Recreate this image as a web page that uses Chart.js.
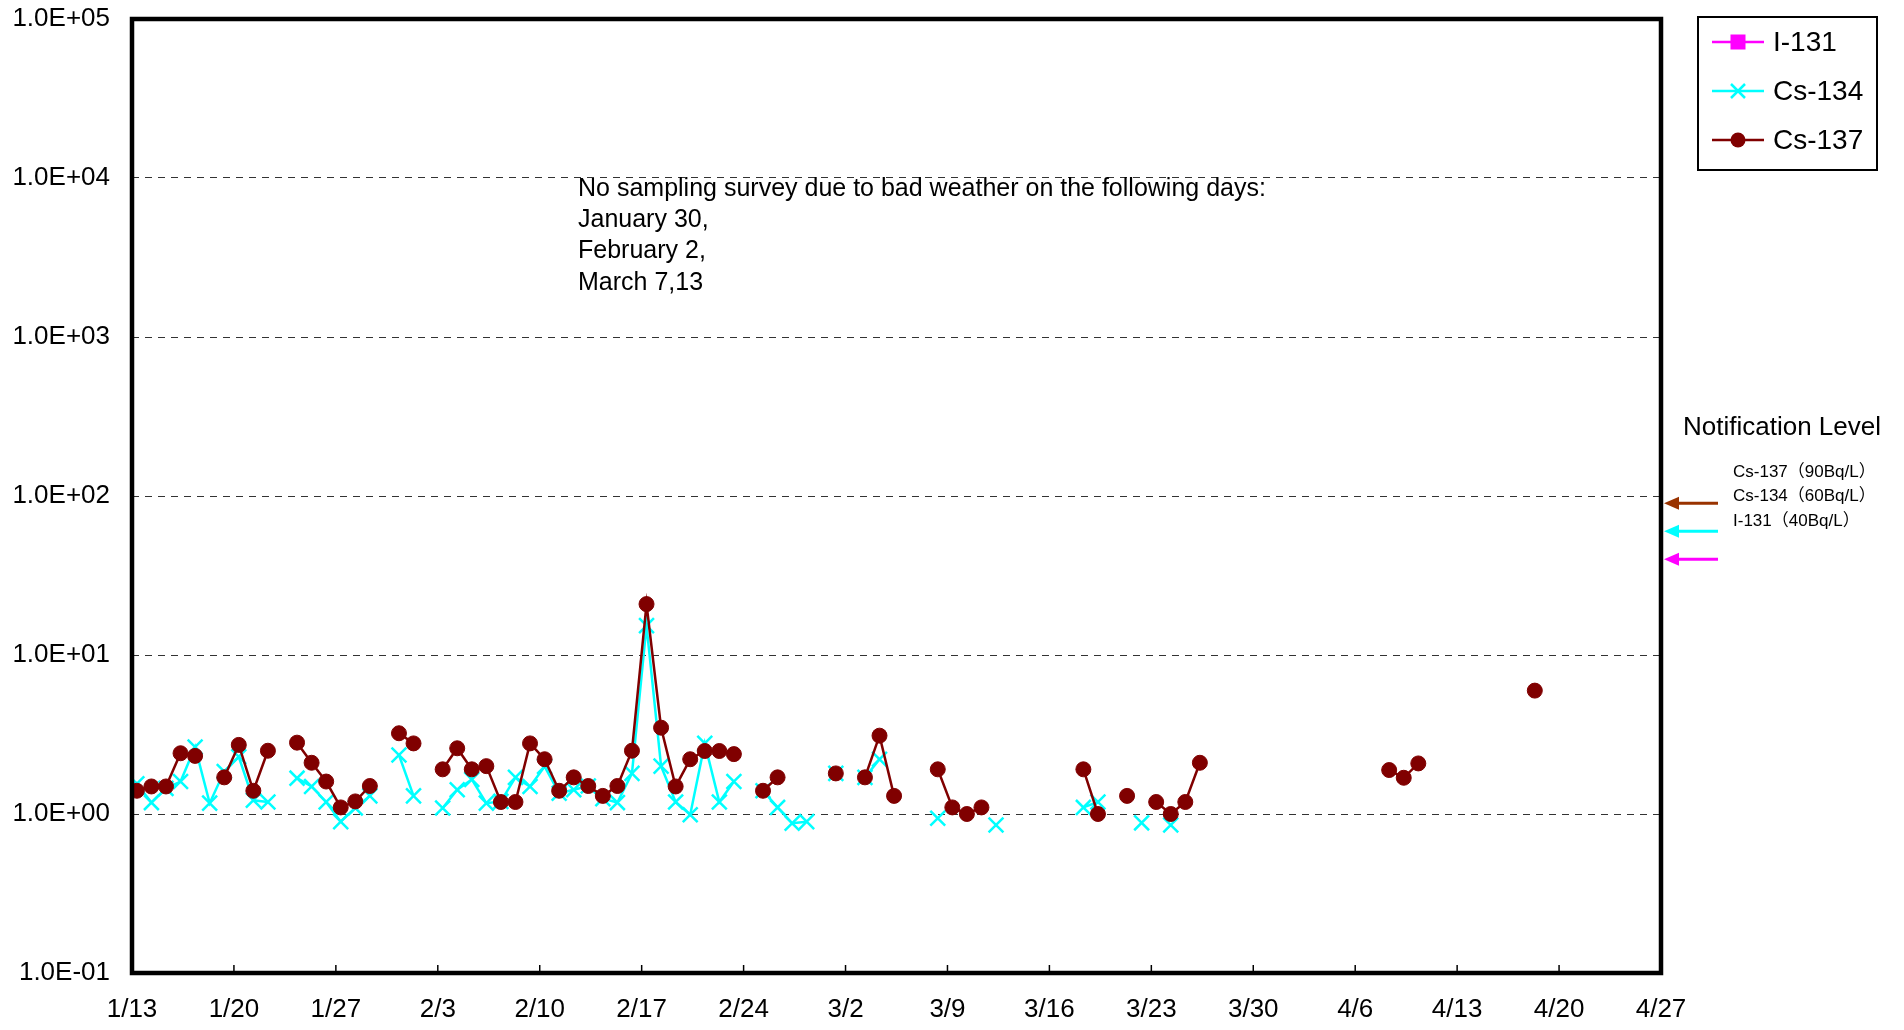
<!DOCTYPE html>
<html>
<head>
<meta charset="utf-8">
<script src="https://cdn.jsdelivr.net/npm/chart.js@4.4.1/dist/chart.umd.min.js"></script>
<style>
html,body{margin:0;padding:0;background:#fff;}
canvas{display:block;}
</style>
</head>
<body>
<canvas id="c" width="1904" height="1030"></canvas>
<script>
// ---------- DATA ----------
const dataYear = 2012;       // leap year (2/24 + 7 days = 3/2)
const sampleHour = 8;        // samples plotted at 8:00 of each day
const seriesNames = ['I-131', 'Cs-134', 'Cs-137'];

const dayLabels = [
  '1/12','1/13','1/14','1/15','1/16','1/17','1/18','1/19','1/20','1/21','1/22','1/23','1/24','1/25','1/26','1/27','1/28','1/29','1/30','1/31',
  '2/1','2/2','2/3','2/4','2/5','2/6','2/7','2/8','2/9','2/10','2/11','2/12','2/13','2/14','2/15','2/16','2/17','2/18','2/19','2/20','2/21','2/22','2/23','2/24','2/25','2/26','2/27','2/28','2/29',
  '3/1','3/2','3/3','3/4','3/5','3/6','3/7','3/8','3/9','3/10','3/11','3/12','3/13','3/14','3/15','3/16','3/17','3/18','3/19','3/20','3/21','3/22','3/23','3/24','3/25','3/26','3/27','3/28','3/29','3/30','3/31',
  '4/1','4/2','4/3','4/4','4/5','4/6','4/7','4/8','4/9','4/10','4/11','4/12','4/13','4/14','4/15','4/16','4/17','4/18'
];

// I-131: not detected over the whole period
const i131 = [];

const cs134 = [
  0.9, 1.55, 1.18, 1.45, 1.60, 2.64, 1.17, 1.85, 2.29, 1.22, 1.19, null, 1.68, 1.49, 1.19, 0.895, 1.09, 1.30, null, 2.35,
  1.30, null, 1.09, 1.42, 1.65, 1.17, 1.20, 1.70, 1.49, 1.99, 1.35, 1.42, 1.50, 1.25, 1.18, 1.80, 15.3, 2.00, 1.19, 0.99, 2.78, 1.19, 1.60, null, 1.40, 1.10, 0.874, 0.895, null,
  1.80, null, 1.70, 2.21, null, null, null, 0.94, null, null, null, 0.853, null, null, null, null, null, 1.10, 1.19, null, null, 0.88, null, 0.853, null, null, null, null, null, null, null,
  null, null, null, null, null, null, null, null, null, null, null, null, null, null, null, null, null, null
];

const cs137 = [
  1.8, 1.40, 1.49, 1.49, 2.41, 2.32, null, 1.70, 2.72, 1.40, 2.50, null, 2.81, 2.10, 1.60, 1.10, 1.20, 1.50, null, 3.22,
  2.78, null, 1.91, 2.59, 1.91, 2.00, 1.19, 1.19, 2.78, 2.21, 1.40, 1.70, 1.50, 1.30, 1.50, 2.50, 20.9, 3.49, 1.49, 2.21, 2.49, 2.49, 2.38, null, 1.40, 1.70, null, null, null,
  1.80, null, 1.70, 3.11, 1.30, null, null, 1.91, 1.10, 1.00, 1.10, null, null, null, null, null, null, 1.91, 1.00, null, 1.30, null, 1.19, 1.00, 1.19, 2.10, null, null, null, null, null,
  null, null, null, null, null, null, null, 1.89, 1.69, 2.08, null, null, null, null, null, null, null, 5.97
];

const xTickLabels = ['1/13','1/20','1/27','2/3','2/10','2/17','2/24','3/2','3/9','3/16','3/23','3/30','4/6','4/13','4/20','4/27'];
const yTickValues = [0.1, 1, 10, 100, 1000, 10000, 100000];
const yTickLabels = ['1.0E-01','1.0E+00','1.0E+01','1.0E+02','1.0E+03','1.0E+04','1.0E+05'];

const notifIsotopes = ['Cs-137', 'Cs-134', 'I-131'];
const notifLevels = [90, 60, 40];
const notifTitle = 'Notification Level';

const noteLines = [
  'No sampling survey due to bad weather on the following days:',
  'January 30,',
  'February 2,',
  'March 7,13'
];

// ---------- HELPERS ----------
const FONT = '"Liberation Sans", Arial, "Noto Sans CJK JP", sans-serif';
const originMs = Date.UTC(dataYear, 0, 13);
function dayPos(label) {
  const [m, d] = label.split('/').map(Number);
  return (Date.UTC(dataYear, m - 1, d) - originMs) / 86400000 + sampleHour / 24;
}
function toPoints(values) {
  return values.map((v, i) => ({ x: dayPos(dayLabels[i]), y: v }));
}

const colors = { 'I-131': '#FF00FF', 'Cs-134': '#00FFFF', 'Cs-137': '#800000' };
const arrowColors = { 'Cs-137': '#993300', 'Cs-134': '#00FFFF', 'I-131': '#FF00FF' };

// ---------- DECORATION PLUGIN ----------
const decor = {
  id: 'decor',
  afterDraw(chart) {
    const { ctx, chartArea: a, scales: { x, y } } = chart;
    ctx.save();

    // inward tick marks on the x axis
    ctx.strokeStyle = '#000';
    ctx.lineWidth = 1.5;
    x.ticks.forEach(t => {
      const px = x.getPixelForValue(t.value);
      ctx.beginPath();
      ctx.moveTo(px, a.bottom);
      ctx.lineTo(px, a.bottom - 8);
      ctx.stroke();
    });

    // plot frame
    ctx.lineWidth = 4.5;
    ctx.strokeRect(a.left, a.top, a.right - a.left, a.bottom - a.top);

    // note text
    ctx.fillStyle = '#000';
    ctx.font = '25px ' + FONT;
    ctx.textAlign = 'left';
    ctx.textBaseline = 'middle';
    noteLines.forEach((s, i) => ctx.fillText(s, 578, 189 + i * 31.3));

    // legend box
    ctx.lineWidth = 2;
    ctx.strokeStyle = '#000';
    ctx.strokeRect(1698, 17, 179, 153);
    const legY = [42, 91, 140];
    chart.data.datasets.forEach((ds, i) => {
      const cy = legY[i];
      const c = ds.borderColor;
      ctx.strokeStyle = c;
      ctx.fillStyle = c;
      ctx.lineWidth = 2.5;
      ctx.beginPath();
      ctx.moveTo(1712, cy);
      ctx.lineTo(1764, cy);
      ctx.stroke();
      const cx = 1738;
      if (ds.pointStyle === 'rect') {
        ctx.fillRect(cx - 7.5, cy - 7.5, 15, 15);
      } else if (ds.pointStyle === 'crossRot') {
        ctx.beginPath();
        ctx.moveTo(cx - 7, cy - 7); ctx.lineTo(cx + 7, cy + 7);
        ctx.moveTo(cx - 7, cy + 7); ctx.lineTo(cx + 7, cy - 7);
        ctx.stroke();
      } else {
        ctx.beginPath();
        ctx.arc(cx, cy, 7.5, 0, Math.PI * 2);
        ctx.fill();
      }
      ctx.fillStyle = '#000';
      ctx.font = '28px ' + FONT;
      ctx.textBaseline = 'middle';
      ctx.fillText(ds.label, 1773, cy + 1);
    });

    // notification level block
    ctx.fillStyle = '#000';
    ctx.font = '26px ' + FONT;
    ctx.fillText(notifTitle, 1683, 428);
    ctx.font = '17px ' + FONT;
    notifIsotopes.forEach((iso, i) => {
      ctx.fillStyle = '#000';
      ctx.fillText(iso + '（' + notifLevels[i] + 'Bq/L）', 1733, 472 + i * 24.5);
      const py = y.getPixelForValue(notifLevels[i]);
      const col = arrowColors[iso];
      const tip = a.right + 3;
      ctx.strokeStyle = col;
      ctx.fillStyle = col;
      ctx.lineWidth = 3;
      ctx.beginPath();
      ctx.moveTo(tip + 10, py);
      ctx.lineTo(1718, py);
      ctx.stroke();
      ctx.beginPath();
      ctx.moveTo(tip, py);
      ctx.lineTo(tip + 15, py - 6.5);
      ctx.lineTo(tip + 15, py + 6.5);
      ctx.closePath();
      ctx.fill();
    });

    ctx.restore();
  }
};

// ---------- CHART ----------
new Chart(document.getElementById('c'), {
  type: 'line',
  data: {
    datasets: [
      {
        label: seriesNames[0], data: toPoints(i131),
        borderColor: colors['I-131'], backgroundColor: colors['I-131'],
        pointStyle: 'rect', pointRadius: 7, borderWidth: 2.5, order: 2
      },
      {
        label: seriesNames[1], data: toPoints(cs134),
        borderColor: colors['Cs-134'], backgroundColor: colors['Cs-134'],
        pointBorderColor: colors['Cs-134'], pointBackgroundColor: colors['Cs-134'],
        pointStyle: 'crossRot', pointRadius: 10.5, pointBorderWidth: 2.5, borderWidth: 2.5, order: 1
      },
      {
        label: seriesNames[2], data: toPoints(cs137),
        borderColor: colors['Cs-137'], backgroundColor: colors['Cs-137'],
        pointBorderColor: colors['Cs-137'], pointBackgroundColor: colors['Cs-137'],
        pointStyle: 'circle', pointRadius: 7.5, pointBorderWidth: 1, borderWidth: 2.5, order: 0
      }
    ]
  },
  options: {
    responsive: false,
    animation: false,
    spanGaps: false,
    layout: { padding: { top: 19, right: 243, left: 0, bottom: 0 } },
    plugins: { legend: { display: false }, tooltip: { enabled: false } },
    elements: { line: { tension: 0 } },
    scales: {
      x: {
        type: 'linear',
        min: 0,
        max: (xTickLabels.length - 1) * 7,
        afterBuildTicks: s => { s.ticks = xTickLabels.map((_, i) => ({ value: i * 7 })); },
        afterFit: s => { s.height = 57; s.paddingLeft = 0; s.paddingRight = 0; },
        grid: { display: false, drawTicks: false },
        border: { display: false },
        ticks: {
          autoSkip: false, maxRotation: 0, padding: 21, color: '#000',
          font: { family: '"Liberation Sans", Arial, sans-serif', size: 26 },
          callback: (v, i) => xTickLabels[i]
        }
      },
      y: {
        type: 'logarithmic',
        min: yTickValues[0],
        max: yTickValues[yTickValues.length - 1],
        afterBuildTicks: s => { s.ticks = yTickValues.map(v => ({ value: v })); },
        afterFit: s => { s.width = 132; s.paddingTop = 0; s.paddingBottom = 0; },
        grid: { color: '#333', lineWidth: 1, drawTicks: false },
        border: { display: false, dash: [7, 6] },
        ticks: {
          padding: 22, color: '#000',
          font: { family: '"Liberation Sans", Arial, sans-serif', size: 26 },
          callback: (v, i) => yTickLabels[i]
        }
      }
    }
  },
  plugins: [decor]
});
</script>
</body>
</html>
